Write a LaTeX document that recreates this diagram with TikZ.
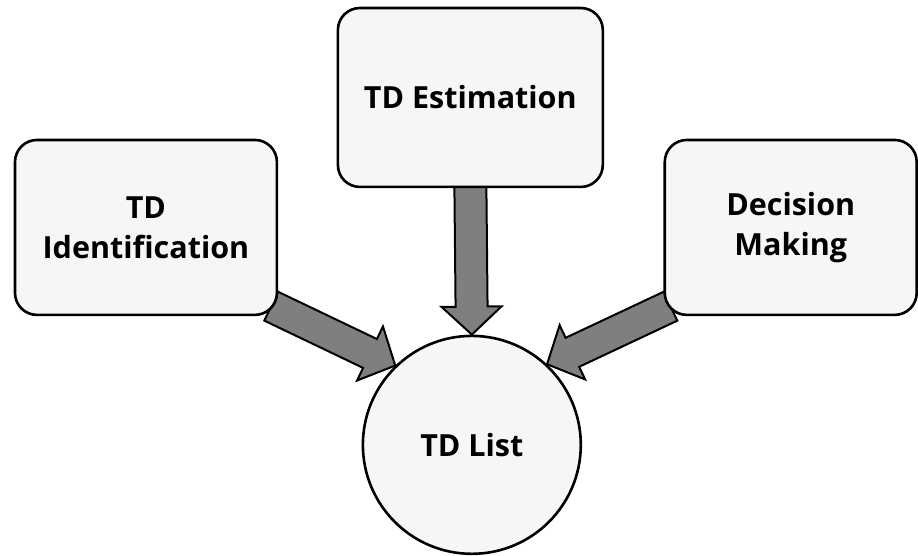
\documentclass[tikz,border=0pt]{standalone}
\usepackage{fontspec}
\setmainfont{Open Sans}
\usetikzlibrary{calc}
\pgfdeclarelayer{bg}
\pgfdeclarelayer{paper}
\pgfsetlayers{paper,bg,main}
\definecolor{boxfill}{HTML}{F6F6F6}
\definecolor{arrfill}{HTML}{7F7F7F}
\tikzset{
  stagebox/.style={draw=black, line width=2.6pt, fill=boxfill, rounded corners=22pt,
    align=center, font=\fontsize{30.5}{40}\selectfont\bfseries, inner sep=0pt},
  listcircle/.style={draw=black, line width=2.6pt, fill=boxfill, circle,
    minimum size=218pt, inner sep=0pt, font=\fontsize{30.5}{40}\selectfont\bfseries},
  blockarr/.style={draw=black, line width=2pt, fill=arrfill, line join=miter}
}
\newcommand\blockarrow[2]{%
  \coordinate (hb) at ($(#2)!28pt!(#1)$);
  \draw[blockarr] ($(#1)!16pt!90:(#2)$) -- ($(hb)!16pt!90:(#2)$) -- ($(hb)!30pt!90:(#2)$)
    -- (#2) -- ($(hb)!30pt!-90:(#2)$) -- ($(hb)!16pt!-90:(#2)$) -- ($(#1)!16pt!-90:(#2)$) -- cycle;
}
\begin{document}
\begin{tikzpicture}[x=1pt,y=-1pt]
\begin{pgfonlayer}{paper}
\useasboundingbox[fill=white] (0,0) rectangle (918,554);
\end{pgfonlayer}
\node[stagebox, minimum width=262pt, minimum height=175pt] (ident) at (146,227.5) {TD\\Identification};
\node[stagebox, minimum width=265pt, minimum height=179pt] (estim) at (470.5,97.5) {TD Estimation};
\node[stagebox, minimum width=252pt, minimum height=175pt] (decis) at (791,227.5) {Decision\\Making};
\node[listcircle] (list) at (472,445) {TD List};
\coordinate (s1) at ($(ident.south east)+(-7,-10)$);
\coordinate (s3) at ($(decis.south west)+(7,-10)$);
\coordinate (s2) at ($(estim.south)+(0,-5)$);
\begin{pgfonlayer}{bg}
\blockarrow{s1}{list.134}
\blockarrow{s2}{list.90}
\blockarrow{s3}{list.47}
\end{pgfonlayer}
\end{tikzpicture}
\end{document}
